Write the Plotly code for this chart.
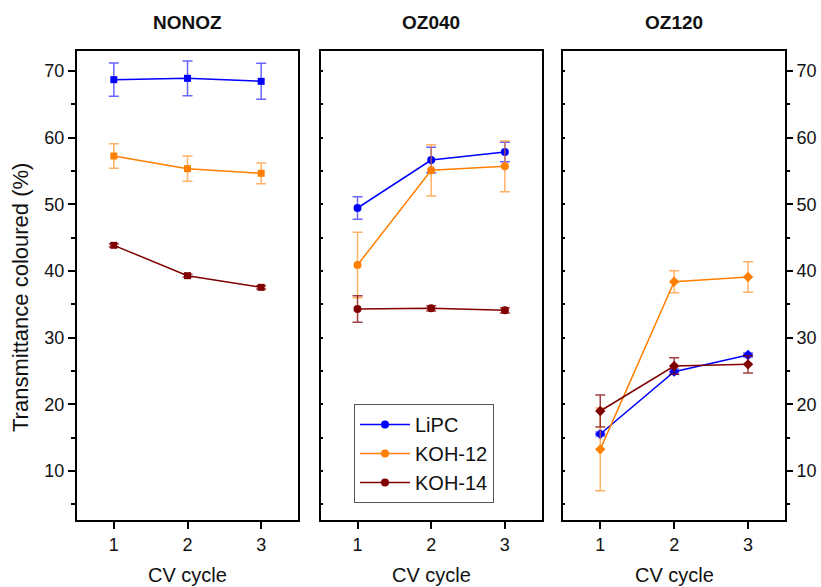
import plotly.graph_objects as go

# CV cycle number on the x axis
cycles = [1, 2, 3]

# Transmittance in the coloured state (%), mean and error per cycle
nonoz_lipc = [68.7, 68.9, 68.45]
nonoz_lipc_err = [2.5, 2.6, 2.7]
nonoz_koh12 = [57.25, 55.35, 54.65]
nonoz_koh12_err = [1.85, 1.9, 1.55]
nonoz_koh14 = [43.85, 39.3, 37.55]
nonoz_koh14_err = [0.25, 0.2, 0.25]

oz040_lipc = [49.45, 56.65, 57.85]
oz040_lipc_err = [1.7, 1.9, 1.45]
oz040_koh12 = [40.9, 55.1, 55.7]
oz040_koh12_err = [4.9, 3.85, 3.8]
oz040_koh14 = [34.3, 34.4, 34.1]
oz040_koh14_err = [2.0, 0.4, 0.4]

oz120_lipc = [15.55, 24.9, 27.4]
oz120_lipc_err = [0.3, 0.4, 0.3]
oz120_koh12 = [13.25, 38.4, 39.1]
oz120_koh12_err = [6.2, 1.65, 2.3]
oz120_koh14 = [19.0, 25.75, 26.0]
oz120_koh14_err = [2.4, 1.25, 1.3]

panel_titles = ["NONOZ", "OZ040", "OZ120"]
series_names = ["LiPC", "KOH-12", "KOH-14"]
y_ticks = [10, 20, 30, 40, 50, 60, 70]
y_minor = [5, 15, 25, 35, 45, 55, 65]

colors = {"LiPC": "#0000ff", "KOH-12": "#ff7f00", "KOH-14": "#800000"}
err_colors = {"LiPC": "rgba(0,0,255,0.6)", "KOH-12": "rgba(255,127,0,0.6)",
              "KOH-14": "rgba(128,0,0,0.75)"}

panels = [
    ("square", [(nonoz_lipc, nonoz_lipc_err), (nonoz_koh12, nonoz_koh12_err),
                (nonoz_koh14, nonoz_koh14_err)]),
    ("circle", [(oz040_lipc, oz040_lipc_err), (oz040_koh12, oz040_koh12_err),
                (oz040_koh14, oz040_koh14_err)]),
    ("diamond", [(oz120_lipc, oz120_lipc_err), (oz120_koh12, oz120_koh12_err),
                 (oz120_koh14, oz120_koh14_err)]),
]

FONT = "Liberation Sans, Arial, sans-serif"
TXT = "#111111"
fig = go.Figure()

for p, (symbol, series) in enumerate(panels):
    xa = "x" if p == 0 else f"x{p + 1}"
    ya = "y" if p == 0 else f"y{p + 1}"
    for name, (vals, errs) in zip(series_names, series):
        fig.add_trace(go.Scatter(
            x=cycles, y=vals, xaxis=xa, yaxis=ya, name=name,
            mode="lines+markers",
            line=dict(color=colors[name], width=1.5),
            marker=dict(symbol=symbol, size=8 if symbol != "square" else 7,
                        color=colors[name]),
            error_y=dict(type="data", array=errs, visible=True,
                         color=err_colors[name], thickness=1.5, width=5),
            showlegend=(p == 1),
        ))

y_range = [2.65, 73.0]
x_range = [0.5, 3.5]
domains = [[77 / 821, 298 / 821], [320.7 / 821, 541.7 / 821], [563.3 / 821, 785 / 821]]
y_dom = [1 - 520 / 587, 1 - 51 / 587]

axis_common = dict(showline=True, linecolor="black", linewidth=2, mirror=True,
                   showgrid=False, zeroline=False)
tick_font = dict(size=18, family=FONT, color=TXT)

layout = dict(
    width=821, height=587,
    margin=dict(l=0, r=0, t=0, b=0),
    paper_bgcolor="white", plot_bgcolor="white",
    font=dict(family=FONT, color=TXT),
    legend=dict(x=354 / 821, y=1 - 404 / 587, xanchor="left", yanchor="top",
                bgcolor="white", bordercolor="#555555", borderwidth=1,
                font=dict(size=20, family=FONT, color=TXT),
                tracegroupgap=0, itemwidth=50),
)

for p in range(3):
    xk = "xaxis" if p == 0 else f"xaxis{p + 1}"
    yk = "yaxis" if p == 0 else f"yaxis{p + 1}"
    anchor_y = "y" if p == 0 else f"y{p + 1}"
    anchor_x = "x" if p == 0 else f"x{p + 1}"
    layout[xk] = dict(axis_common, domain=domains[p], anchor=anchor_y, range=x_range,
                      tickvals=cycles, ticktext=[str(c) for c in cycles],
                      ticks="outside", ticklen=7, tickwidth=2, tickcolor="black",
                      tickfont=tick_font)
    if p == 0:
        layout[yk] = dict(axis_common, domain=y_dom, anchor=anchor_x, range=y_range,
                          tickvals=y_ticks, ticks="outside", ticklen=7, tickwidth=2,
                          tickcolor="black",
                          minor=dict(tickvals=y_minor, ticks="outside", ticklen=4,
                                     tickwidth=2, tickcolor="black"),
                          tickfont=tick_font)
    else:
        layout[yk] = dict(axis_common, domain=y_dom, anchor=anchor_x, range=y_range,
                          tickvals=sorted(y_ticks + y_minor),
                          ticks="inside", ticklen=2, tickwidth=2, tickcolor="black",
                          showticklabels=False)

# right-hand value axis on the last panel
layout["yaxis4"] = dict(overlaying="y3", side="right", anchor="x3", range=y_range,
                        showgrid=False, zeroline=False, showline=False,
                        tickvals=y_ticks, ticks="outside", ticklen=7, tickwidth=2,
                        tickcolor="black",
                        minor=dict(tickvals=y_minor, ticks="outside", ticklen=4,
                                   tickwidth=2, tickcolor="black"),
                        tickfont=tick_font)

annotations = []
for p, title in enumerate(panel_titles):
    cx = (domains[p][0] + domains[p][1]) / 2
    annotations.append(dict(text=f"<b>{title}</b>", x=cx, y=1 - 22 / 587,
                            xref="paper", yref="paper", showarrow=False,
                            xanchor="center", yanchor="middle",
                            font=dict(size=19, family=FONT, color=TXT)))
    annotations.append(dict(text="CV cycle", x=cx, y=1 - 575 / 587,
                            xref="paper", yref="paper", showarrow=False,
                            xanchor="center", yanchor="middle",
                            font=dict(size=20, family=FONT, color=TXT)))
annotations.append(dict(text="Transmittance coloured (%)", x=21 / 821, y=1 - 298 / 587,
                        xref="paper", yref="paper", showarrow=False, textangle=-90,
                        xanchor="center", yanchor="middle",
                        font=dict(size=22, family=FONT, color=TXT)))
layout["annotations"] = annotations

fig.update_layout(**layout)
# empty trace so the right-hand axis is drawn
fig.add_trace(go.Scatter(x=[None], y=[None], xaxis="x3", yaxis="y4", showlegend=False,
                         hoverinfo="skip"))

fig.write_html("out.html")
